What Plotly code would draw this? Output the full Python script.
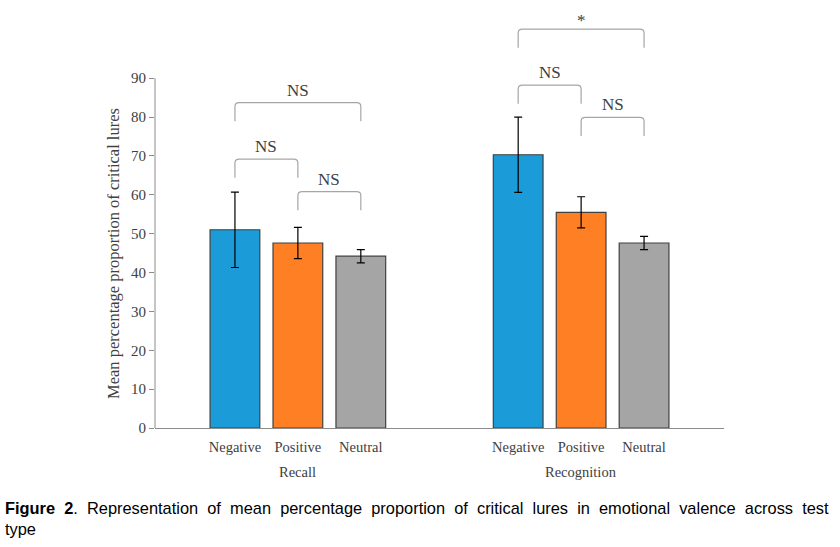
import plotly.graph_objects as go

# data
tests = ['Recall', 'Recognition']
valences = ['Negative', 'Positive', 'Neutral']
colors = ['#1b9bd7', '#fe7f24', '#a5a5a5']

means = {
    'Recall': [51.0, 47.6, 44.2],
    'Recognition': [70.3, 55.5, 47.6],
}
errors = {
    'Recall': [9.7, 4.0, 1.7],
    'Recognition': [9.7, 4.0, 1.7],
}

# significance brackets: (test, from valence, to valence, label, top height)
brackets = [
    ('Recall', 0, 2, 'NS', 83.7),
    ('Recall', 0, 1, 'NS', 69.2),
    ('Recall', 1, 2, 'NS', 60.8),
    ('Recognition', 0, 2, '*', 102.6),
    ('Recognition', 0, 1, 'NS', 88.2),
    ('Recognition', 1, 2, 'NS', 79.9),
]
bracket_drop = 4.8

y_ticks = list(range(0, 100, 10))

serif = 'Liberation Serif, Times New Roman, serif'
axis_grey = '#8c8c8c'
text_grey = '#404040'

group_gap = 4.5


def xpos(test, i):
    return tests.index(test) * group_gap + i


fig = go.Figure()
for i, val in enumerate(valences):
    fig.add_trace(go.Bar(
        x=[xpos(t, i) for t in tests],
        y=[means[t][i] for t in tests],
        error_y=dict(type='data', array=[errors[t][i] for t in tests],
                     color='black', thickness=1.2, width=4),
        marker=dict(color=colors[i], line=dict(color=text_grey, width=1.2)),
        width=0.79,
        name=val,
        showlegend=False,
    ))

shapes = []
annotations = []
dx, dy = 0.07, 1.0
for test, a, b, label, top in brackets:
    x0, x1 = xpos(test, a), xpos(test, b)
    low = top - bracket_drop
    path = (f'M {x0},{low} L {x0},{top - dy} Q {x0},{top} {x0 + dx},{top} '
            f'L {x1 - dx},{top} Q {x1},{top} {x1},{top - dy} L {x1},{low}')
    shapes.append(dict(type='path', path=path, xref='x', yref='y',
                       line=dict(color='#a6a6a6', width=1.2)))
    annotations.append(dict(x=(x0 + x1) / 2, y=top, xref='x', yref='y',
                            text=label, showarrow=False, yanchor='bottom',
                            yshift=1 if label == 'NS' else -3,
                            font=dict(family=serif, size=17, color=text_grey)))

# y axis line only up to 90
shapes.append(dict(type='line', xref='paper', x0=0, x1=0, yref='y', y0=0, y1=90,
                   line=dict(color=axis_grey, width=1)))

for t in tests:
    annotations.append(dict(x=xpos(t, 1), y=-0.107, xref='x', yref='paper',
                            text=t, showarrow=False, yanchor='middle',
                            font=dict(family=serif, size=14.5, color=text_grey)))

annotations.append(dict(x=-0.074, y=45, xref='paper', yref='y', textangle=-90,
                        text='Mean percentage proportion of critical lures',
                        showarrow=False, xanchor='center', yanchor='middle',
                        font=dict(family=serif, size=16.5, color=text_grey)))

gap = ' &nbsp;'
caption_words = ('Representation of mean percentage proportion of critical '
                 'lures in emotional valence across test').split()
caption = ('<b>Figure' + gap + '2</b>.' + gap + gap.join(caption_words) + '<br>type')
annotations.append(dict(x=-0.267, y=-0.1675, xref='paper', yref='paper',
                        text=caption, showarrow=False, xanchor='left', yanchor='top',
                        align='left',
                        font=dict(family='Liberation Sans, Arial, sans-serif', size=16.4,
                                  color='black')))

fig.update_layout(
    width=840, height=547,
    margin=dict(l=155, r=116, t=16, b=119),
    plot_bgcolor='white', paper_bgcolor='white',
    barmode='overlay',
    shapes=shapes,
    annotations=annotations,
    xaxis=dict(range=[-1.27, 7.77], tickvals=[xpos(t, i) for t in tests for i in range(3)],
               ticktext=valences * 2, showgrid=False, zeroline=False,
               showline=True, linecolor=axis_grey, linewidth=1, ticks='',
               ticklabelstandoff=6,
               tickfont=dict(family=serif, size=14.5, color=text_grey)),
    yaxis=dict(range=[0, 106], tickvals=y_ticks, showgrid=False, zeroline=False,
               showline=False, ticks='outside', ticklen=5, tickcolor=axis_grey,
               tickfont=dict(family=serif, size=15, color=text_grey)),
)

# drop the page's default body margin so the figure sits at the window's corner
fig.write_html('out.html', config={'displayModeBar': False},
               post_script="document.body.style.margin = '0';")
